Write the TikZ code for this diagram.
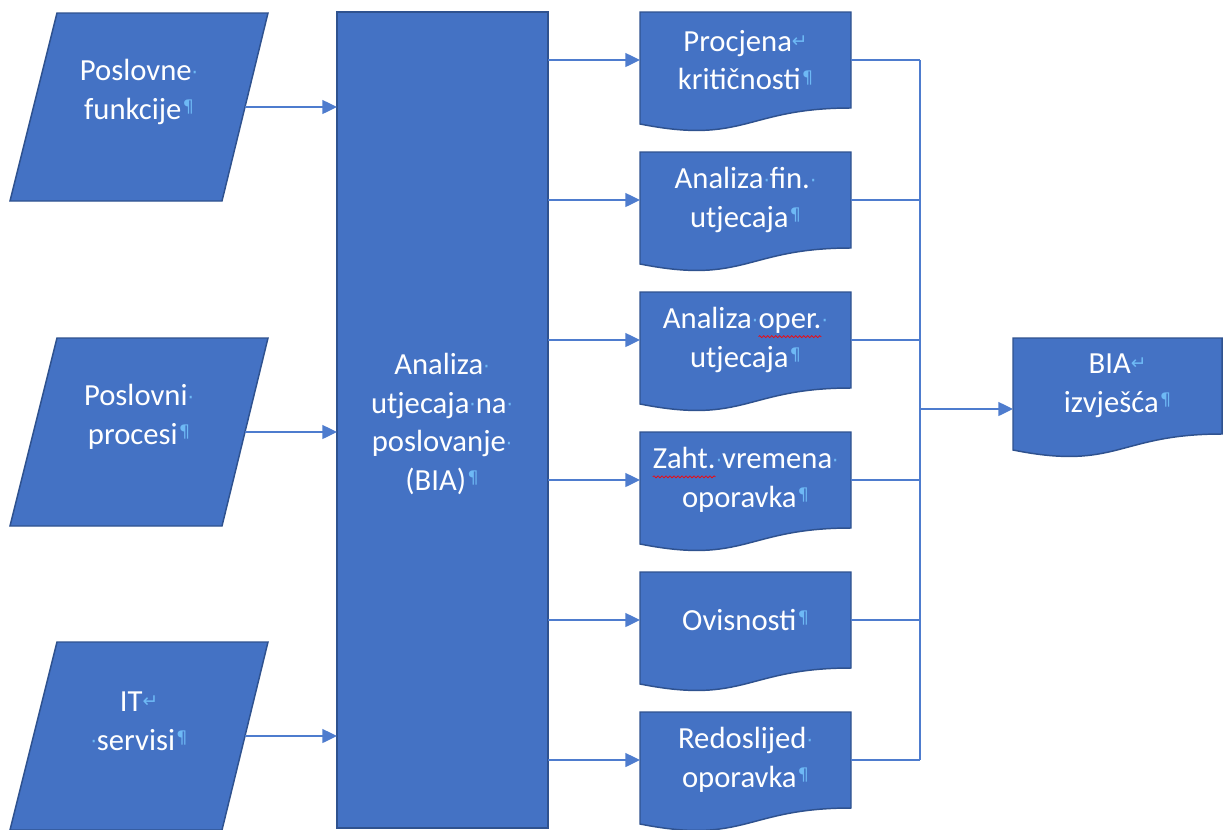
\documentclass[tikz,border=0pt]{standalone}
\usepackage{fontspec}
\setmainfont{Carlito}
\newfontfamily\dvfont{DejaVu Sans}
\usetikzlibrary{arrows.meta,decorations.pathmorphing}
\definecolor{boxfill}{RGB}{68,114,196}
\definecolor{boxedge}{RGB}{47,82,143}
\definecolor{linec}{RGB}{78,124,206}
\definecolor{mk}{RGB}{110,185,245}
\newcommand\redwave[1]{\tikz[baseline=(w.base)]{\node[inner sep=0pt,outer sep=0pt,draw=none,fill=none,text=white,shape=rectangle,anchor=base](w) at (0,0){#1};
  \draw[red, line width=0.5pt, decorate, decoration={snake, amplitude=0.8pt, segment length=3pt}] ([yshift=-6pt]w.base west) -- ([yshift=-6pt]w.base east);}}
\newcommand\dt{{\color{mk}\dvfont\fontsize{15pt}{15pt}\selectfont\raisebox{1pt}{·}}}
\newcommand\pil{\kern1pt{\color{mk}\dvfont\fontsize{13pt}{13pt}\selectfont\raisebox{5pt}{¶}}}
\newcommand\ret{{\color{mk}\dvfont\fontsize{14pt}{14pt}\selectfont\raisebox{3pt}{↵}}}
\tikzset{
  shapestyle/.style={fill=boxfill, draw=boxedge, line width=1.1pt, line join=miter},
  txt/.style={text=white, align=center, inner sep=0pt, font=\fontsize{23pt}{29pt}\selectfont},
  conn/.style={draw=linec, line width=1pt},
  arr/.style={conn, -{Triangle[length=11pt,width=10.5pt]}}
}
\newcommand\para[3]{%
  \draw[shapestyle] (57,#2) -- (268,#2) -- (222,#2+188) -- (10,#2+188) -- cycle;
  \node[txt] (#1) at (139,#2+79) {#3};
  \coordinate (#1-out) at (245,#2+94);
}
\newcommand\docbox[5]{%
  \draw[shapestyle] (#2,#3) -- (#2+#4,#3) -- (#2+#4,#3+96)
    .. controls (#2+#4/2,#3+96) and (#2+#4/2,#3+133) .. (#2,#3+112) -- cycle;
  \node[txt] (#1) at (#2+#4/2,#3+48) {#5};
  \coordinate (#1-w) at (#2,#3+48);
  \coordinate (#1-e) at (#2+#4,#3+48);
}
\begin{document}
\begin{tikzpicture}[x=0.75pt,y=-0.75pt]
\useasboundingbox (0,0) rectangle (1227,829);
% inputs
\para{pf}{13}{Poslovne\dt\\funkcije\pil}
\para{pp}{338}{Poslovni\dt\\procesi\pil}
\para{it}{642}{IT\ret\\\dt servisi\pil}
% central block
\draw[shapestyle] (337,12) rectangle (548,828);
\node[txt] (bia) at (442,424) {Analiza\dt\\utjecaja\dt na\dt\\poslovanje\dt\\(BIA)\pil};
\coordinate (bia-in1) at (337,107);
\coordinate (bia-in2) at (337,432);
\coordinate (bia-in3) at (337,736);
\coordinate (bia-o1) at (548,60);
\coordinate (bia-o2) at (548,200);
\coordinate (bia-o3) at (548,340);
\coordinate (bia-o4) at (548,480);
\coordinate (bia-o5) at (548,620);
\coordinate (bia-o6) at (548,760);
% outputs
\docbox{d1}{640}{12}{211}{Procjena\ret\\kritičnosti\pil}
\docbox{d2}{640}{152}{211}{Analiza\dt fin.\dt\\utjecaja\pil}
\docbox{d3}{640}{292}{211}{Analiza\dt\redwave{oper.}\dt\\utjecaja\pil}
\docbox{d4}{640}{432}{211}{\redwave{Zaht.}\dt vremena\dt\\oporavka\pil}
\docbox{d5}{640}{572}{211}{Ovisnosti\pil}
\docbox{d6}{640}{712}{211}{Redoslijed\dt\\oporavka\pil}
% report
\docbox{rep}{1013}{338}{209}{BIA\ret\\izvješća\pil}
\coordinate (rep-in) at (1013,409);
% connectors
\draw[arr] (pf-out) -- (bia-in1);
\draw[arr] (pp-out) -- (bia-in2);
\draw[arr] (it-out) -- (bia-in3);
\foreach \i in {1,...,6} {\draw[arr] (bia-o\i) -- (d\i-w);}
\coordinate (jtop) at (920,60);
\coordinate (jbot) at (920,760);
\coordinate (jmid) at (920,409);
\foreach \i in {1,...,6} {\draw[conn] (d\i-e) -- (d\i-e -| jmid);}
\draw[conn] (jtop) -- (jbot);
\draw[arr] (jmid) -- (rep-in);
\end{tikzpicture}
\end{document}
